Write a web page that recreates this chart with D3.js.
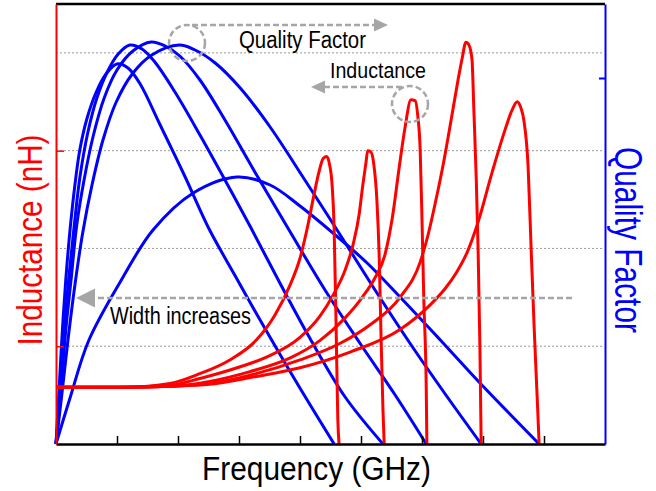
<!DOCTYPE html>
<html><head><meta charset="utf-8">
<script src="https://cdn.jsdelivr.net/npm/d3@7"></script>
<style>html,body{margin:0;padding:0;background:#fff;}svg{display:block;}</style>
</head><body>
<svg id="chart" width="656" height="491"></svg>
<script>
// ---- axis / tick values ----
const xTickValues = [1, 2, 3, 4, 5, 6, 7, 8];
const gridValues = [1, 2, 3, 4];
const leftTickValues = [1, 3];
const rightTickValues = [36.6];

// ---- Quality factor curves (blue): frequency (GHz) / Q ----
const qFreqA = [0,0.05,0.10,0.16,0.23,0.31,0.39,0.51,0.66,0.82,1.00,1.18,1.38,1.70,2.11,2.51,2.93,3.28,3.92,4.56];
const qValA  = [0,5.4,10.9,16.4,21.4,25.9,29.4,32.6,35.2,37.0,38.0,37.6,36.0,32.0,26.8,21.5,16.9,13.1,6.4,0];
const qFreqB = [0,0.07,0.13,0.21,0.30,0.39,0.52,0.67,0.84,1.02,1.21,1.41,1.62,1.95,2.36,2.77,3.18,3.67,4.16,4.74,5.36];
const qValB  = [0,5.2,10.9,16.6,21.9,26.6,31.1,34.6,37.2,39.0,39.9,39.5,38.2,35.2,30.9,26.4,21.8,16.1,10.6,4.7,0];
const qFreqC = [0,0.08,0.16,0.25,0.34,0.46,0.61,0.79,1.00,1.26,1.56,1.79,2.03,2.36,2.77,3.26,3.84,4.41,4.98,5.56,6.07];
const qValC  = [0,5.4,11.4,16.6,21.9,26.4,30.8,34.6,37.4,39.3,40.2,39.8,38.8,36.4,32.4,27.2,21.2,15.4,10.1,4.9,0];
const qFreqD = [0,0.10,0.20,0.31,0.44,0.59,0.77,0.98,1.25,1.57,2.02,2.28,2.61,3.02,3.51,4.08,4.66,5.23,5.80,6.38,6.97];
const qValD  = [0,5.2,10.6,15.9,21.2,25.9,30.4,34.1,37.0,38.9,39.9,39.4,38.1,35.6,31.7,26.4,20.9,15.4,10.1,5.0,0];
const qFreqE = [0,0.23,0.54,1.10,1.59,2.25,2.97,3.51,4.00,4.54,5.10,5.64,6.30,6.95,7.92];
const qValE  = [0,4.6,10.4,16.7,21.4,25.1,26.7,25.9,23.8,21.1,18.1,14.7,10.4,6.1,0];

// ---- Inductance curves (red): frequency (GHz) / L (nH) ----
const lFreq1 = [0,1.05,1.87,2.36,2.85,3.28,3.59,3.84,4.00,4.13,4.23,4.31,4.38,4.44,4.49,4.52,4.56,4.59,4.62,4.64];
const lVal1  = [0.58,0.58,0.62,0.72,0.86,1.06,1.32,1.63,1.90,2.24,2.55,2.78,2.92,2.94,2.84,2.70,2.19,1.27,0.25,0];
const lFreq2 = [0,1.05,1.87,2.36,3.02,3.46,4.00,4.33,4.54,4.74,4.87,4.97,5.03,5.08,5.11,5.16,5.21,5.26,5.30,5.33,5.36,5.38];
const lVal2  = [0.58,0.58,0.60,0.67,0.79,0.89,1.09,1.31,1.52,1.78,2.04,2.35,2.65,2.87,3.00,2.99,2.86,2.50,1.88,1.06,0.35,0];
const lFreq3 = [0,1.05,1.87,2.52,3.18,3.84,4.33,4.74,5.02,5.23,5.39,5.52,5.62,5.72,5.82,5.89,5.93,5.97,6.00,6.03,6.07,6.08];
const lVal3  = [0.58,0.58,0.59,0.64,0.74,0.88,1.06,1.29,1.50,1.70,1.93,2.34,2.80,3.23,3.52,3.51,3.36,3.01,2.29,1.47,0.55,0];
const lFreq4 = [0,1.05,1.87,2.52,3.28,4.00,4.66,5.15,5.64,5.97,6.10,6.23,6.36,6.49,6.59,6.66,6.72,6.77,6.82,6.85,6.89,6.92,6.95,6.97];
const lVal4  = [0.58,0.58,0.59,0.62,0.72,0.86,1.03,1.22,1.50,1.86,2.14,2.50,2.90,3.36,3.72,3.95,4.11,4.08,3.93,3.42,2.70,1.98,0.96,0];
const lFreq5 = [0,1.05,1.87,2.52,3.28,4.00,4.82,5.64,6.13,6.38,6.57,6.74,6.92,7.15,7.36,7.48,7.56,7.62,7.67,7.74,7.79,7.84,7.89,7.92];
const lVal5  = [0.58,0.58,0.59,0.61,0.69,0.78,0.94,1.17,1.42,1.59,1.76,1.96,2.27,2.78,3.21,3.42,3.50,3.44,3.31,2.83,1.98,1.17,0.45,0];

const qSeries = [[qFreqA,qValA],[qFreqB,qValB],[qFreqC,qValC],[qFreqD,qValD],[qFreqE,qValE]];
const lSeries = [[lFreq1,lVal1],[lFreq2,lVal2],[lFreq3,lVal3],[lFreq4,lVal4],[lFreq5,lVal5]];

const svg = d3.select('#chart');
const X0 = 56, X1 = 605, Y0 = 444, Y1 = 4;
const x = d3.scaleLinear().domain([0, 9]).range([X0, X1]);
const yL = d3.scaleLinear().domain([0, 4.5]).range([Y0, Y1]);
const yQ = d3.scaleLinear().domain([0, 44]).range([Y0, Y1]);

const RED = '#ff0000', BLUE = '#0000ff', GRAY = '#a6a6a6';
const FONT = 'Liberation Sans, Arial, Helvetica, sans-serif';

// gridlines
svg.append('g').selectAll('line').data(gridValues).join('line')
  .attr('x1', X0).attr('x2', X1 - 2)
  .attr('y1', d => yL(d)).attr('y2', d => yL(d))
  .attr('stroke', '#9a9a9a').attr('stroke-width', 1).attr('stroke-dasharray', '2,2');

// blue Q curves
const qLine = d3.line().x(d => x(d[0])).y(d => yQ(d[1])).curve(d3.curveCatmullRom.alpha(0.5));
svg.append('g').selectAll('path').data(qSeries).join('path')
  .attr('d', s => qLine(s[0].map((f, i) => [f, s[1][i]])))
  .attr('fill', 'none').attr('stroke', BLUE).attr('stroke-width', 3);

// red L curves
const lLine = d3.line().x(d => x(d[0])).y(d => yL(d[1])).curve(d3.curveMonotoneX);
svg.append('g').selectAll('path').data(lSeries).join('path')
  .attr('d', s => lLine(s[0].map((f, i) => [f, s[1][i]])))
  .attr('fill', 'none').attr('stroke', RED).attr('stroke-width', 3);

// annotations
function arrow(xStart, xEnd, y, head, half) {
  const dir = Math.sign(xEnd - xStart);
  svg.append('line').attr('x1', xStart).attr('x2', xEnd - dir * head).attr('y1', y).attr('y2', y)
    .attr('stroke', GRAY).attr('stroke-width', 2.5).attr('stroke-dasharray', '6,3');
  svg.append('path')
    .attr('d', `M${xEnd},${y} L${xEnd - dir * head},${y - half} L${xEnd - dir * head},${y + half} Z`)
    .attr('fill', GRAY);
}
svg.append('ellipse').attr('cx', 187).attr('cy', 43).attr('rx', 18).attr('ry', 18)
  .attr('fill', 'none').attr('stroke', GRAY).attr('stroke-width', 2.5).attr('stroke-dasharray', '6,3');
arrow(192, 388, 25, 14, 6.5);
svg.append('ellipse').attr('cx', 410).attr('cy', 104).attr('rx', 18).attr('ry', 18)
  .attr('fill', 'none').attr('stroke', GRAY).attr('stroke-width', 2.5).attr('stroke-dasharray', '6,3');
arrow(402, 311, 87, 14, 6.5);
arrow(572, 76, 298, 19, 9.5);

function label(txt, cx, baseline, size, len, color, rot) {
  const t = svg.append('text').text(txt)
    .attr('font-family', FONT).attr('font-size', size).attr('fill', color)
    .attr('text-anchor', 'middle').attr('textLength', len).attr('lengthAdjust', 'spacingAndGlyphs');
  if (rot) t.attr('transform', `translate(${cx},${baseline}) rotate(${rot})`).attr('x', 0).attr('y', 0);
  else t.attr('x', cx).attr('y', baseline);
}
label('Quality Factor', 302.5, 48, 23.5, 127, '#000');
label('Inductance', 378, 78, 22.5, 96, '#000');
label('Width increases', 180.5, 324, 23.5, 141, '#000');

// axes
const xAxis = d3.axisBottom(x).tickValues(xTickValues).tickSize(-8).tickSizeOuter(0).tickFormat('');
const gx = svg.append('g').attr('transform', `translate(0,${Y0})`).call(xAxis);
gx.select('.domain').attr('stroke', '#000').attr('stroke-width', 2.5);
gx.selectAll('.tick line').attr('stroke', '#000').attr('stroke-width', 1.5);

svg.append('line').attr('x1', X0).attr('x2', X1).attr('y1', Y1).attr('y2', Y1)
  .attr('stroke', '#000').attr('stroke-width', 2.5);

const lAxis = d3.axisLeft(yL).tickValues(leftTickValues).tickSize(-8).tickSizeOuter(0).tickFormat('');
const gl = svg.append('g').attr('transform', `translate(${X0},0)`).call(lAxis);
gl.select('.domain').attr('stroke', RED).attr('stroke-width', 2);
gl.selectAll('.tick line').attr('stroke', RED).attr('stroke-width', 1.5);

const rAxis = d3.axisRight(yQ).tickValues(rightTickValues).tickSize(-6).tickSizeOuter(0).tickFormat('');
const gr = svg.append('g').attr('transform', `translate(${X1},0)`).call(rAxis);
gr.select('.domain').attr('stroke', BLUE).attr('stroke-width', 2);
gr.selectAll('.tick line').attr('stroke', BLUE).attr('stroke-width', 2);

// axis titles
label('Frequency (GHz)', 316.5, 480, 32.5, 229, '#000');
label('Inductance (nH)', 42, 240, 35, 211, RED, -90);
label('Quality Factor', 615, 240, 38, 186, BLUE, 90);
</script>
</body></html>
